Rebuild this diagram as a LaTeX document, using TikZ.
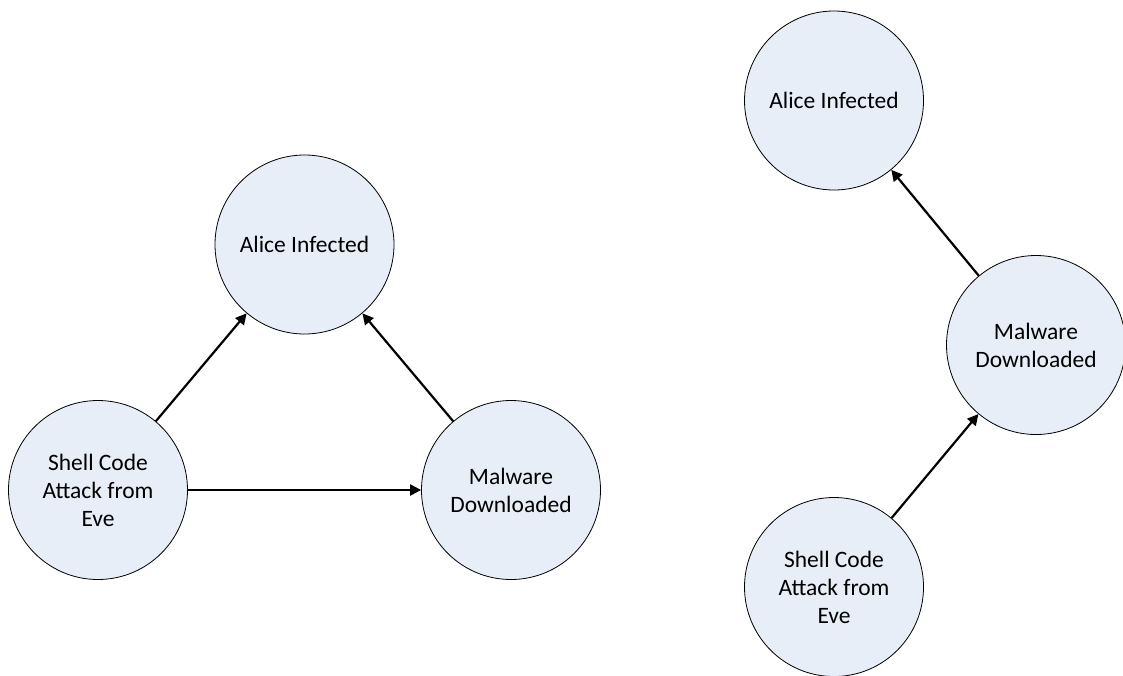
\documentclass[tikz,border=0pt]{standalone}
\usepackage{fontspec}
\setmainfont{Carlito}
\usetikzlibrary{arrows.meta}
\definecolor{nodefill}{HTML}{E8EEF7}
\begin{document}
\begin{tikzpicture}[x=1pt,y=-1pt,
  state/.style={circle, draw=black, line width=0.8pt, fill=nodefill, minimum size=179pt, inner sep=0pt, align=center, font=\fontsize{23.5}{28}\selectfont},
  edge/.style={line width=2.2pt, -{Triangle[length=11pt,width=11pt]}}]
\useasboundingbox (0,0) rectangle (1123,675);
% left graph
\node[state] (la) at (304.5,244.5) {Alice Infected};
\node[state] (ls) at (98,490) {Shell Code\\Attack from\\Eve};
\node[state] (lm) at (511,490) {Malware\\Downloaded};
\draw[edge] (ls) -- (la);
\draw[edge] (lm) -- (la);
\draw[edge] (ls) -- (lm);
% right graph
\node[state] (ra) at (834,100.5) {Alice Infected};
\node[state] (rm) at (1036,345) {Malware\\Downloaded};
\node[state] (rs) at (834,587) {Shell Code\\Attack from\\Eve};
\draw[edge] (rm) -- (ra);
\draw[edge] (rs) -- (rm);
\end{tikzpicture}
\end{document}
